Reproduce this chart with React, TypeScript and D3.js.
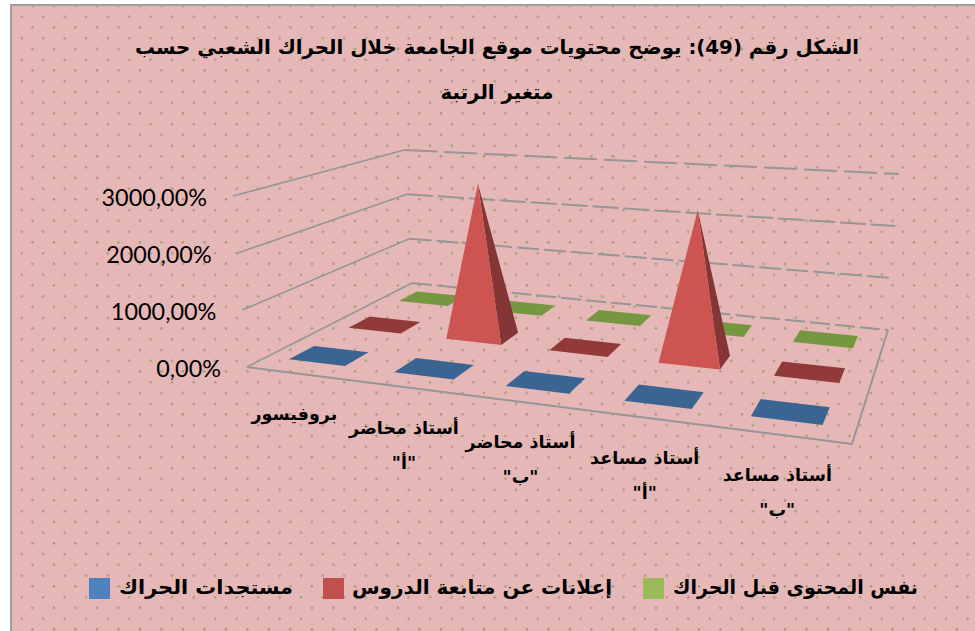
import React from "react";
import * as d3 from "d3";

const titleLines = ["الشكل رقم (49): يوضح محتويات موقع الجامعة خلال الحراك الشعبي حسب", "متغير الرتبة"];
const categories = [["بروفيسور"], ["أستاذ محاضر", "\"أ\""], ["أستاذ محاضر", "\"ب\""], ["أستاذ مساعد", "\"أ\""], ["أستاذ مساعد", "\"ب\""]];
const seriesNames = ["مستجدات الحراك", "إعلانات عن متابعة الدروس", "نفس المحتوى قبل الحراك"];
const blueValues = [0, 0, 0, 0, 0];
const redValues = [0, 2900, 0, 2700, 0];
const greenValues = [0, 0, 0, 0, 0];
const seriesValues = [blueValues, redValues, greenValues];
const yTicks = [0, 1000, 2000, 3000];
const faceColors = ["#4F81BD", "#CD5451", "#9BBB59"];
const sideColors = ["#3A6491", "#843536", "#76973F"];
const flatColors = ["#3A6491", "#923A3A", "#76973F"];
const legendSwatchColors = ["#4F81BD", "#C0504D", "#9BBB59"];

type P = [number, number];
// Chart frame: floor and ceiling plane corners [front-left, front-right, back-right, back-left]
const floorQuad: P[] = [[247, 367], [852, 444], [888, 330], [412, 283]];
const ceilQuad: P[] = [[233, 196], [860, 259], [899, 174], [402, 150]];

function squareToQuad(q: P[]) {
  const [[x0, y0], [x1, y1], [x2, y2], [x3, y3]] = q;
  const dx3 = x0 - x1 + x2 - x3, dy3 = y0 - y1 + y2 - y3;
  const dx1 = x1 - x2, dx2 = x3 - x2, dy1 = y1 - y2, dy2 = y3 - y2;
  const det = dx1 * dy2 - dx2 * dy1;
  const g = (dx3 * dy2 - dx2 * dy3) / det;
  const h = (dx1 * dy3 - dx3 * dy1) / det;
  const a = x1 - x0 + g * x1, b = x3 - x0 + h * x3, c = x0;
  const d = y1 - y0 + g * y1, e = y3 - y0 + h * y3, f = y0;
  return (s: number, t: number): P => {
    const w = g * s + h * t + 1;
    return [(a * s + b * t + c) / w, (d * s + e * t + f) / w];
  };
}
const floorMap = squareToQuad(floorQuad);
const ceilMap = squareToQuad(ceilQuad);
const uScale = d3.scaleLinear().domain([0, categories.length]).range([0, 1]);
const vScale = d3.scaleLinear().domain([0, seriesNames.length]).range([0, 1]);
const hScale = d3.scaleLinear().domain([0, 3000]).range([0, 1]);
// verticals fan out slightly around this screen x
const VANISH_X = 606, FAN = 0.039;
function project(u: number, v: number, h: number): P {
  const s = uScale(u), t = vScale(v), k = hScale(h);
  const a = floorMap(s, t), b = ceilMap(s, t);
  return [a[0] + (a[0] - VANISH_X) * FAN * k, a[1] + (b[1] - a[1]) * k];
}
const line = d3.line<P>();
const poly = (pts: P[]) => line(pts) + "Z";

const DU = 0.27, DV = 0.2;
const GRID = "#969696";
const DOT = "#A39C6B";
const ARABIC = "'DejaVu Sans', sans-serif";

function Marker({ u, v, value, s }: { u: number; v: number; value: number; s: number }) {
  const fl = project(u - DU, v - DV, 0), fr = project(u + DU, v - DV, 0);
  const br = project(u + DU, v + DV, 0), bl = project(u - DU, v + DV, 0);
  if (value <= 0) return <path d={poly([fl, fr, br, bl])} fill={flatColors[s]} />;
  const apex = project(u, v, value);
  return (
    <g>
      <path d={poly([fr, br, apex])} fill={sideColors[s]} />
      <path d={poly([fl, fr, apex])} fill={faceColors[s]} />
    </g>
  );
}

export default function App() {
  const cells: { u: number; v: number; value: number; s: number }[] = [];
  for (let s = seriesValues.length - 1; s >= 0; s--) {
    seriesValues[s].forEach((value, i) => cells.push({ u: i + 0.48, v: s + 0.5, value, s }));
  }
  const nC = categories.length, nS = seriesNames.length;
  const legendSwatchX = [643, 323, 89];
  const legendOrder = [2, 1, 0];
  const legendTextX = [918, 612, 293];
  const legendTextW = [245, 260, 174];
  const dashes = ["20 5", "22 5", "26 5", "33 7"];
  return (
    <svg width={975} height={631} style={{ position: "absolute", left: 0, top: 0, background: "#fff" }}>
      <defs>
        <pattern id="dots" width={21.5} height={21.5} patternUnits="userSpaceOnUse" x={0.2} y={11.4}>
          <rect width={21.5} height={21.5} fill="#E5B8B7" />
          <circle cx={0} cy={5.3} r={1.25} fill={DOT} />
          <circle cx={21.5} cy={5.3} r={1.25} fill={DOT} />
          <circle cx={10.75} cy={16} r={1.25} fill={DOT} />
        </pattern>
      </defs>
      <rect x={11} y={5} width={975} height={640} fill="url(#dots)" stroke="#A0A0A0" strokeWidth={2} />
      <g fontFamily={ARABIC} fontWeight="bold" fontSize={19.8} textAnchor="middle" fill="#000" direction="rtl">
        {titleLines.map((t, i) => (
          <text key={i} x={497} y={54 + i * 45}>{t}</text>
        ))}
      </g>
      {yTicks.map((tick, ti) => {
        const p0 = project(0, 0, tick), p1 = project(0, nS, tick), p2 = project(nC, nS, tick);
        return (
          <g key={tick} fill="none" stroke={GRID}>
            <path d={line([p0, p1])!} strokeWidth={1.6} />
            <path d={line([p1, p2])!} strokeWidth={2} strokeDasharray={dashes[ti]} />
          </g>
        );
      })}
      <path d={line([project(0, 0, 0), project(nC, 0, 0), project(nC, nS, 0)])!} fill="none" stroke={GRID} strokeWidth={2} />
      {yTicks.map((tick) => {
        const p = project(0, 0, tick);
        return (
          <text key={tick} x={p[0] - 26} y={p[1] + 10} textAnchor="end" fontFamily="Lato, sans-serif" fontSize={23.4} fill="#000">
            {`${tick},00%`}
          </text>
        );
      })}
      {cells.map((c, i) => <Marker key={i} {...c} />)}
      <g fontFamily={ARABIC} fontWeight="bold" fontSize={17.5} textAnchor="middle" fill="#000" direction="rtl">
        {categories.map((lines, i) => {
          const p = project(i + 0.5, 0, 0);
          return lines.map((l, j) => (
            <text key={j} x={p[0] - 5} y={p[1] + 46 + j * 35}>{l}</text>
          ));
        })}
      </g>
      <g>
        {legendOrder.map((s, i) => (
          <g key={s}>
            <rect x={legendSwatchX[i]} y={578} width={21} height={21} fill={legendSwatchColors[s]} />
            <text x={legendTextX[i] - legendTextW[i]} y={594} textLength={legendTextW[i]} lengthAdjust="spacingAndGlyphs" fontFamily={ARABIC} fontWeight="bold" fontSize={19.5} fill="#000">{seriesNames[s]}</text>
          </g>
        ))}
      </g>
    </svg>
  );
}
